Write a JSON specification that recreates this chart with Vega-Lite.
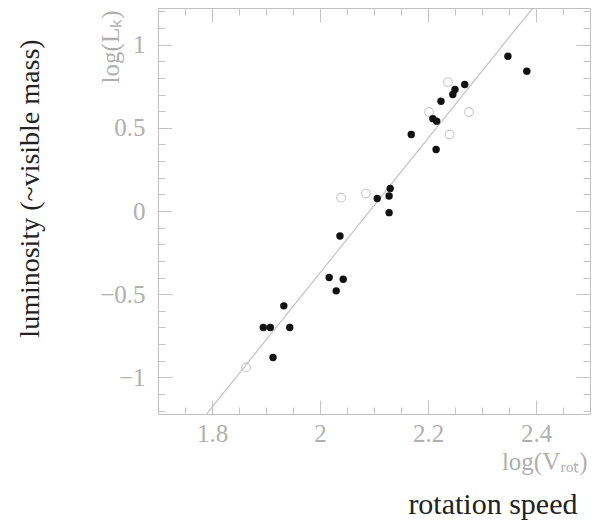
{
  "$schema": "https://vega.github.io/schema/vega-lite/v6.json",
  "autosize": "none",
  "width": 432,
  "height": 406,
  "padding": {"left": 158, "top": 8, "right": 8, "bottom": 112},
  "background": "white",
  "config": {
    "view": {"stroke": "#c0c0c0", "strokeWidth": 1},
    "axis": {
      "domain": false,
      "grid": false,
      "tickColor": "#c4c4c4",
      "tickWidth": 1,
      "labelFont": "Liberation Serif",
      "labelFontSize": 25,
      "labelColor": "#b0b0b0",
      "titleFont": "Liberation Serif",
      "titleFontWeight": "normal",
      "titleFontSize": 25,
      "titleColor": "#b0b0b0"
    }
  },
  "datasets": {
    "fit": [
      {"logV": 1.79, "logL": -1.22},
      {"logV": 2.394, "logL": 1.22}
    ],
    "filled": [
      {"logV": 2.348, "logL": 0.93},
      {"logV": 2.383, "logL": 0.84},
      {"logV": 2.268, "logL": 0.76},
      {"logV": 2.25, "logL": 0.73},
      {"logV": 2.246, "logL": 0.7},
      {"logV": 2.224, "logL": 0.66},
      {"logV": 2.209, "logL": 0.555},
      {"logV": 2.216, "logL": 0.54},
      {"logV": 2.169, "logL": 0.46},
      {"logV": 2.215, "logL": 0.37},
      {"logV": 2.13, "logL": 0.135},
      {"logV": 2.128, "logL": 0.09},
      {"logV": 2.106, "logL": 0.075},
      {"logV": 2.128, "logL": -0.01},
      {"logV": 2.037, "logL": -0.15},
      {"logV": 2.017, "logL": -0.4},
      {"logV": 2.043, "logL": -0.41},
      {"logV": 2.03, "logL": -0.48},
      {"logV": 1.933, "logL": -0.57},
      {"logV": 1.895, "logL": -0.7},
      {"logV": 1.908, "logL": -0.7},
      {"logV": 1.944, "logL": -0.7},
      {"logV": 1.913, "logL": -0.88}
    ],
    "open": [
      {"logV": 2.237, "logL": 0.775},
      {"logV": 2.202, "logL": 0.595},
      {"logV": 2.276, "logL": 0.595},
      {"logV": 2.24, "logL": 0.46},
      {"logV": 2.039, "logL": 0.08},
      {"logV": 2.085, "logL": 0.105},
      {"logV": 1.863, "logL": -0.94}
    ]
  },
  "resolve": {"axis": {"x": "independent", "y": "independent"}},
  "layer": [
    {
      "description": "Tully-Fisher fit line, with the major ticks on the top and right edges of the frame",
      "data": {"name": "fit"},
      "mark": {"type": "line", "color": "#c4c4c4", "strokeWidth": 1.2, "clip": true},
      "encoding": {
        "x": {
          "field": "logV", "type": "quantitative",
          "scale": {"domain": [1.7, 2.5], "nice": false, "zero": false},
          "axis": {"orient": "top", "values": [1.8, 2.0, 2.2, 2.4], "tickSize": -14, "labels": false, "title": null}
        },
        "y": {
          "field": "logL", "type": "quantitative",
          "scale": {"domain": [-1.22, 1.22], "nice": false, "zero": false},
          "axis": {"orient": "right", "values": [-1, -0.5, 0, 0.5, 1], "tickSize": -14, "labels": false, "title": null}
        }
      }
    },
    {
      "description": "Open circles, with the minor ticks on the bottom and left edges and the plain-language axis titles",
      "data": {"name": "open"},
      "mark": {"type": "point", "shape": "circle", "filled": false, "stroke": "#b4b4b4", "strokeWidth": 1.1, "size": 75},
      "encoding": {
        "x": {
          "field": "logV", "type": "quantitative",
          "scale": {"domain": [1.7, 2.5], "nice": false, "zero": false},
          "axis": {
            "orient": "bottom",
            "values": [1.75, 1.85, 1.9, 1.95, 2.05, 2.1, 2.15, 2.25, 2.3, 2.35, 2.45],
            "tickSize": -7, "labels": false,
            "title": "rotation speed",
            "titleFont": "Liberation Serif", "titleFontSize": 30, "titleColor": "#222222",
            "titleX": 419, "titleY": 99, "titleAlign": "right", "titleBaseline": "alphabetic"
          }
        },
        "y": {
          "field": "logL", "type": "quantitative",
          "scale": {"domain": [-1.22, 1.22], "nice": false, "zero": false},
          "axis": {
            "orient": "left",
            "values": [-1.2, -1.1, -0.9, -0.8, -0.7, -0.6, -0.4, -0.3, -0.2, -0.1, 0.1, 0.2, 0.3, 0.4, 0.6, 0.7, 0.8, 0.9, 1.1, 1.2],
            "tickSize": -7, "labels": false,
            "title": "luminosity (~visible mass)",
            "titleFont": "Liberation Serif", "titleFontSize": 28, "titleColor": "#222222",
            "titleX": -128, "titleY": 180, "titleAngle": -90, "titleAlign": "center", "titleBaseline": "middle"
          }
        }
      }
    },
    {
      "description": "Filled circles, with the labelled bottom and left axes",
      "data": {"name": "filled"},
      "mark": {"type": "point", "shape": "circle", "filled": true, "color": "#111111", "opacity": 1, "size": 55},
      "encoding": {
        "x": {
          "field": "logV", "type": "quantitative",
          "scale": {"domain": [1.7, 2.5], "nice": false, "zero": false},
          "axis": {
            "orient": "bottom", "values": [1.8, 2.0, 2.2, 2.4], "format": "~g",
            "tickSize": -14, "labelPadding": 21,
            "title": "log(Vᵣₒₜ)",
            "titleX": 429, "titleY": 35, "titleAlign": "right", "titleBaseline": "top"
          }
        },
        "y": {
          "field": "logL", "type": "quantitative",
          "scale": {"domain": [-1.22, 1.22], "nice": false, "zero": false},
          "axis": {
            "orient": "left", "values": [-1, -0.5, 0, 0.5, 1], "format": "~g",
            "tickSize": -14, "labelPadding": 27,
            "title": "log(Lₖ)",
            "titleX": -48, "titleY": 2, "titleAngle": -90, "titleAlign": "right", "titleBaseline": "middle"
          }
        }
      }
    },
    {
      "description": "Minor ticks on the top and right edges of the frame",
      "data": {"name": "filled"},
      "mark": {"type": "point", "opacity": 0},
      "encoding": {
        "x": {
          "field": "logV", "type": "quantitative",
          "scale": {"domain": [1.7, 2.5], "nice": false, "zero": false},
          "axis": {
            "orient": "top",
            "values": [1.75, 1.85, 1.9, 1.95, 2.05, 2.1, 2.15, 2.25, 2.3, 2.35, 2.45],
            "tickSize": -7, "labels": false, "title": null
          }
        },
        "y": {
          "field": "logL", "type": "quantitative",
          "scale": {"domain": [-1.22, 1.22], "nice": false, "zero": false},
          "axis": {
            "orient": "right",
            "values": [-1.2, -1.1, -0.9, -0.8, -0.7, -0.6, -0.4, -0.3, -0.2, -0.1, 0.1, 0.2, 0.3, 0.4, 0.6, 0.7, 0.8, 0.9, 1.1, 1.2],
            "tickSize": -7, "labels": false, "title": null
          }
        }
      }
    }
  ]
}
